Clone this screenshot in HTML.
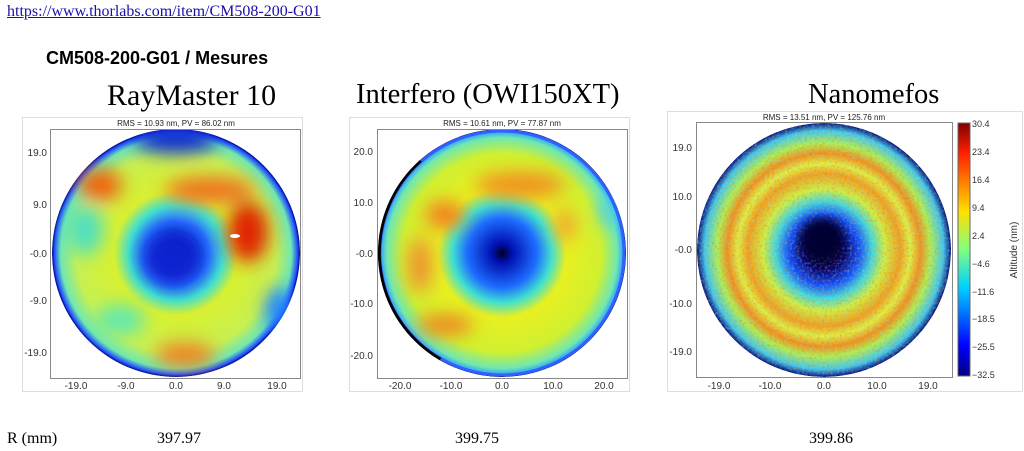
<!DOCTYPE html>
<html><head><meta charset="utf-8"><style>
body{margin:0;width:1024px;height:451px;background:#fff;overflow:hidden;position:relative;font-family:"Liberation Serif",serif}
.a{position:absolute;white-space:nowrap}
</style></head><body>
<div class="a" style="left:7px;top:3px;font-size:16px;color:#1a0dab;text-decoration:underline">https://www.thorlabs.com/item/CM508-200-G01</div>
<div class="a" style="left:46px;top:48px;font-size:18px;font-weight:bold;font-family:'Liberation Sans',sans-serif">CM508-200-G01 / Mesures</div>
<div class="a" style="left:107px;top:79px;font-size:30px">RayMaster 10</div>
<div class="a" style="left:356px;top:79px;font-size:28.5px">Interfero (OWI150XT)</div>
<div class="a" style="left:808px;top:79px;font-size:28.5px">Nanomefos</div>
<div class="a" style="left:7px;top:430px;font-size:16px">R (mm)</div>
<div class="a" style="left:157px;top:430px;font-size:16px">397.97</div>
<div class="a" style="left:455px;top:430px;font-size:16px">399.75</div>
<div class="a" style="left:809px;top:430px;font-size:16px">399.86</div>
<svg width="1024" height="451" style="position:absolute;left:0;top:0" font-family="Liberation Sans,sans-serif">
<defs>
<filter id="b"><feGaussianBlur stdDeviation="9"/></filter>
<filter id="b2"><feGaussianBlur stdDeviation="5"/></filter>
<filter id="n"><feTurbulence type="fractalNoise" baseFrequency="0.4" numOctaves="2" seed="3"/><feColorMatrix type="matrix" values="0 0 0 0 1  0 0 0 0 0.15  0 0 0 0 0  0 0 0 2 -1.0"/><feComposite in2="SourceGraphic" operator="in"/></filter>
<filter id="n2"><feTurbulence type="fractalNoise" baseFrequency="0.4" numOctaves="2" seed="8"/><feColorMatrix type="matrix" values="0 0 0 0 0.2  0 0 0 0 0.8  0 0 0 0 1  0 0 0 2 -1.0"/><feComposite in2="SourceGraphic" operator="in"/></filter>
<radialGradient id="g1"><stop offset="0" stop-color="#000030"/><stop offset="0.08" stop-color="#0018c0"/><stop offset="0.26" stop-color="#2a70ff"/><stop offset="0.38" stop-color="#40e0d0"/><stop offset="0.5" stop-color="#d8f030"/><stop offset="0.8" stop-color="#c8f050"/><stop offset="0.93" stop-color="#70e8b0"/><stop offset="0.98" stop-color="#2050ff"/><stop offset="1" stop-color="#000080"/></radialGradient>
<radialGradient id="g2"><stop offset="0" stop-color="#000020"/><stop offset="0.08" stop-color="#0010b0"/><stop offset="0.28" stop-color="#1e6cff"/><stop offset="0.4" stop-color="#40e0d0"/><stop offset="0.52" stop-color="#e8f020"/><stop offset="0.8" stop-color="#d0f030"/><stop offset="0.93" stop-color="#70e8b0"/><stop offset="0.98" stop-color="#30a0ff"/><stop offset="1" stop-color="#000040"/></radialGradient>
<radialGradient id="g3"><stop offset="0" stop-color="#000010"/><stop offset="0.16" stop-color="#000070"/><stop offset="0.28" stop-color="#1050ff"/><stop offset="0.38" stop-color="#40d8e0"/><stop offset="0.48" stop-color="#d0f040"/><stop offset="0.6" stop-color="#f0a020"/><stop offset="0.68" stop-color="#e0f040"/><stop offset="0.76" stop-color="#f09020"/><stop offset="0.84" stop-color="#b0f050"/><stop offset="0.94" stop-color="#40c8f0"/><stop offset="1" stop-color="#001080"/></radialGradient>
<linearGradient id="cb" x1="0" y1="1" x2="0" y2="0"><stop offset="0" stop-color="#000080"/><stop offset="0.12" stop-color="#0000ff"/><stop offset="0.35" stop-color="#00d0ff"/><stop offset="0.5" stop-color="#80ff80"/><stop offset="0.65" stop-color="#ffe000"/><stop offset="0.88" stop-color="#ff2000"/><stop offset="1" stop-color="#800000"/></linearGradient>
<clipPath id="c1"><circle cx="176" cy="253" r="124"/></clipPath>
<clipPath id="c2"><circle cx="502" cy="253" r="124"/></clipPath>
<clipPath id="c3"><circle cx="824" cy="250" r="127"/></clipPath>
</defs>
<g fill="#fff" stroke="#ddd"><rect x="22.5" y="117.5" width="280" height="274"/><rect x="349.5" y="117.5" width="280" height="274"/><rect x="667.5" y="111.5" width="355" height="280"/></g>
<g font-size="8" fill="#222" text-anchor="middle"><text x="176" y="126">RMS = 10.93 nm, PV = 86.02 nm</text><text x="502" y="126">RMS = 10.61 nm, PV = 77.87 nm</text><text x="824" y="120">RMS = 13.51 nm, PV = 125.76 nm</text></g>
<g clip-path="url(#c1)"><circle cx="176" cy="253" r="124" fill="url(#g1)"/>
<g filter="url(#b)"><ellipse cx="100" cy="185" rx="22" ry="16" fill="#f06010"/><ellipse cx="210" cy="190" rx="45" ry="13" fill="#f07020"/><ellipse cx="248" cy="232" rx="20" ry="30" fill="#e02000"/><ellipse cx="185" cy="355" rx="30" ry="12" fill="#f08020"/><ellipse cx="85" cy="230" rx="18" ry="25" fill="#50e0c0"/><ellipse cx="280" cy="310" rx="14" ry="22" fill="#2080ff"/><ellipse cx="176" cy="139" rx="42" ry="14" fill="#0828d0"/><ellipse cx="120" cy="320" rx="25" ry="15" fill="#60e8b0"/><ellipse cx="172" cy="258" rx="28" ry="26" fill="#0820d0"/></g>
<ellipse cx="235" cy="236" rx="5" ry="2" fill="#fff"/></g>
<rect x="50.5" y="129.5" width="250" height="249" fill="none" stroke="#888"/>
<g clip-path="url(#c2)"><circle cx="502" cy="253" r="124" fill="url(#g2)"/>
<g filter="url(#b)"><ellipse cx="520" cy="185" rx="45" ry="13" fill="#f09020"/><ellipse cx="445" cy="215" rx="20" ry="14" fill="#f08020"/><ellipse cx="420" cy="265" rx="12" ry="28" fill="#f09030"/><ellipse cx="445" cy="325" rx="28" ry="10" fill="#f08020"/><ellipse cx="565" cy="225" rx="10" ry="16" fill="#f0a030"/><ellipse cx="610" cy="210" rx="10" ry="18" fill="#50d0e0"/></g>
<circle cx="502" cy="253" r="122" fill="none" stroke="#3060ff" stroke-width="3"/><path d="M420 160 A124 124 0 0 0 440 360" stroke="#000" stroke-width="5" fill="none"/></g>
<rect x="377.5" y="129.5" width="250" height="249" fill="none" stroke="#888"/>
<g clip-path="url(#c3)"><circle cx="824" cy="250" r="127" fill="url(#g3)"/>
<circle cx="824" cy="250" r="127" fill="#ff3000" filter="url(#n)" opacity="0.6"/>
<circle cx="824" cy="250" r="127" fill="#fff" filter="url(#n2)" opacity="0.6"/>
<g filter="url(#b2)"><circle cx="822" cy="240" r="22" fill="#000030"/></g></g>
<rect x="696.5" y="122.5" width="256" height="255" fill="none" stroke="#888"/>
<rect x="958" y="123" width="12" height="253" fill="url(#cb)" stroke="#666"/>
<g font-size="10" fill="#333" text-anchor="end"><text x="47" y="156">19.0</text><text x="47" y="208">9.0</text><text x="47" y="257">-0.0</text><text x="47" y="304">-9.0</text><text x="47" y="356">-19.0</text>
<text x="373" y="155">20.0</text><text x="373" y="206">10.0</text><text x="373" y="257">-0.0</text><text x="373" y="307">-10.0</text><text x="373" y="359">-20.0</text>
<text x="692" y="151">19.0</text><text x="692" y="200">10.0</text><text x="692" y="253">-0.0</text><text x="692" y="307">-10.0</text><text x="692" y="355">-19.0</text></g>
<g font-size="10" fill="#333" text-anchor="middle"><text x="76" y="389">-19.0</text><text x="126" y="389">-9.0</text><text x="176" y="389">0.0</text><text x="224" y="389">9.0</text><text x="277" y="389">19.0</text>
<text x="400" y="389">-20.0</text><text x="451" y="389">-10.0</text><text x="502" y="389">0.0</text><text x="553" y="389">10.0</text><text x="604" y="389">20.0</text>
<text x="719" y="389">-19.0</text><text x="770" y="389">-10.0</text><text x="824" y="389">0.0</text><text x="877" y="389">10.0</text><text x="928" y="389">19.0</text></g>
<g font-size="9" fill="#333"><text x="972" y="127">30.4</text><text x="972" y="155">23.4</text><text x="972" y="183">16.4</text><text x="972" y="211">9.4</text><text x="972" y="239">2.4</text><text x="972" y="267">−4.6</text><text x="972" y="295">−11.6</text><text x="972" y="322">−18.5</text><text x="972" y="350">−25.5</text><text x="972" y="378">−32.5</text></g>
<text transform="translate(1017,250) rotate(-90)" font-size="10" fill="#333" text-anchor="middle">Altitude (nm)</text>
</svg>
</body></html>
